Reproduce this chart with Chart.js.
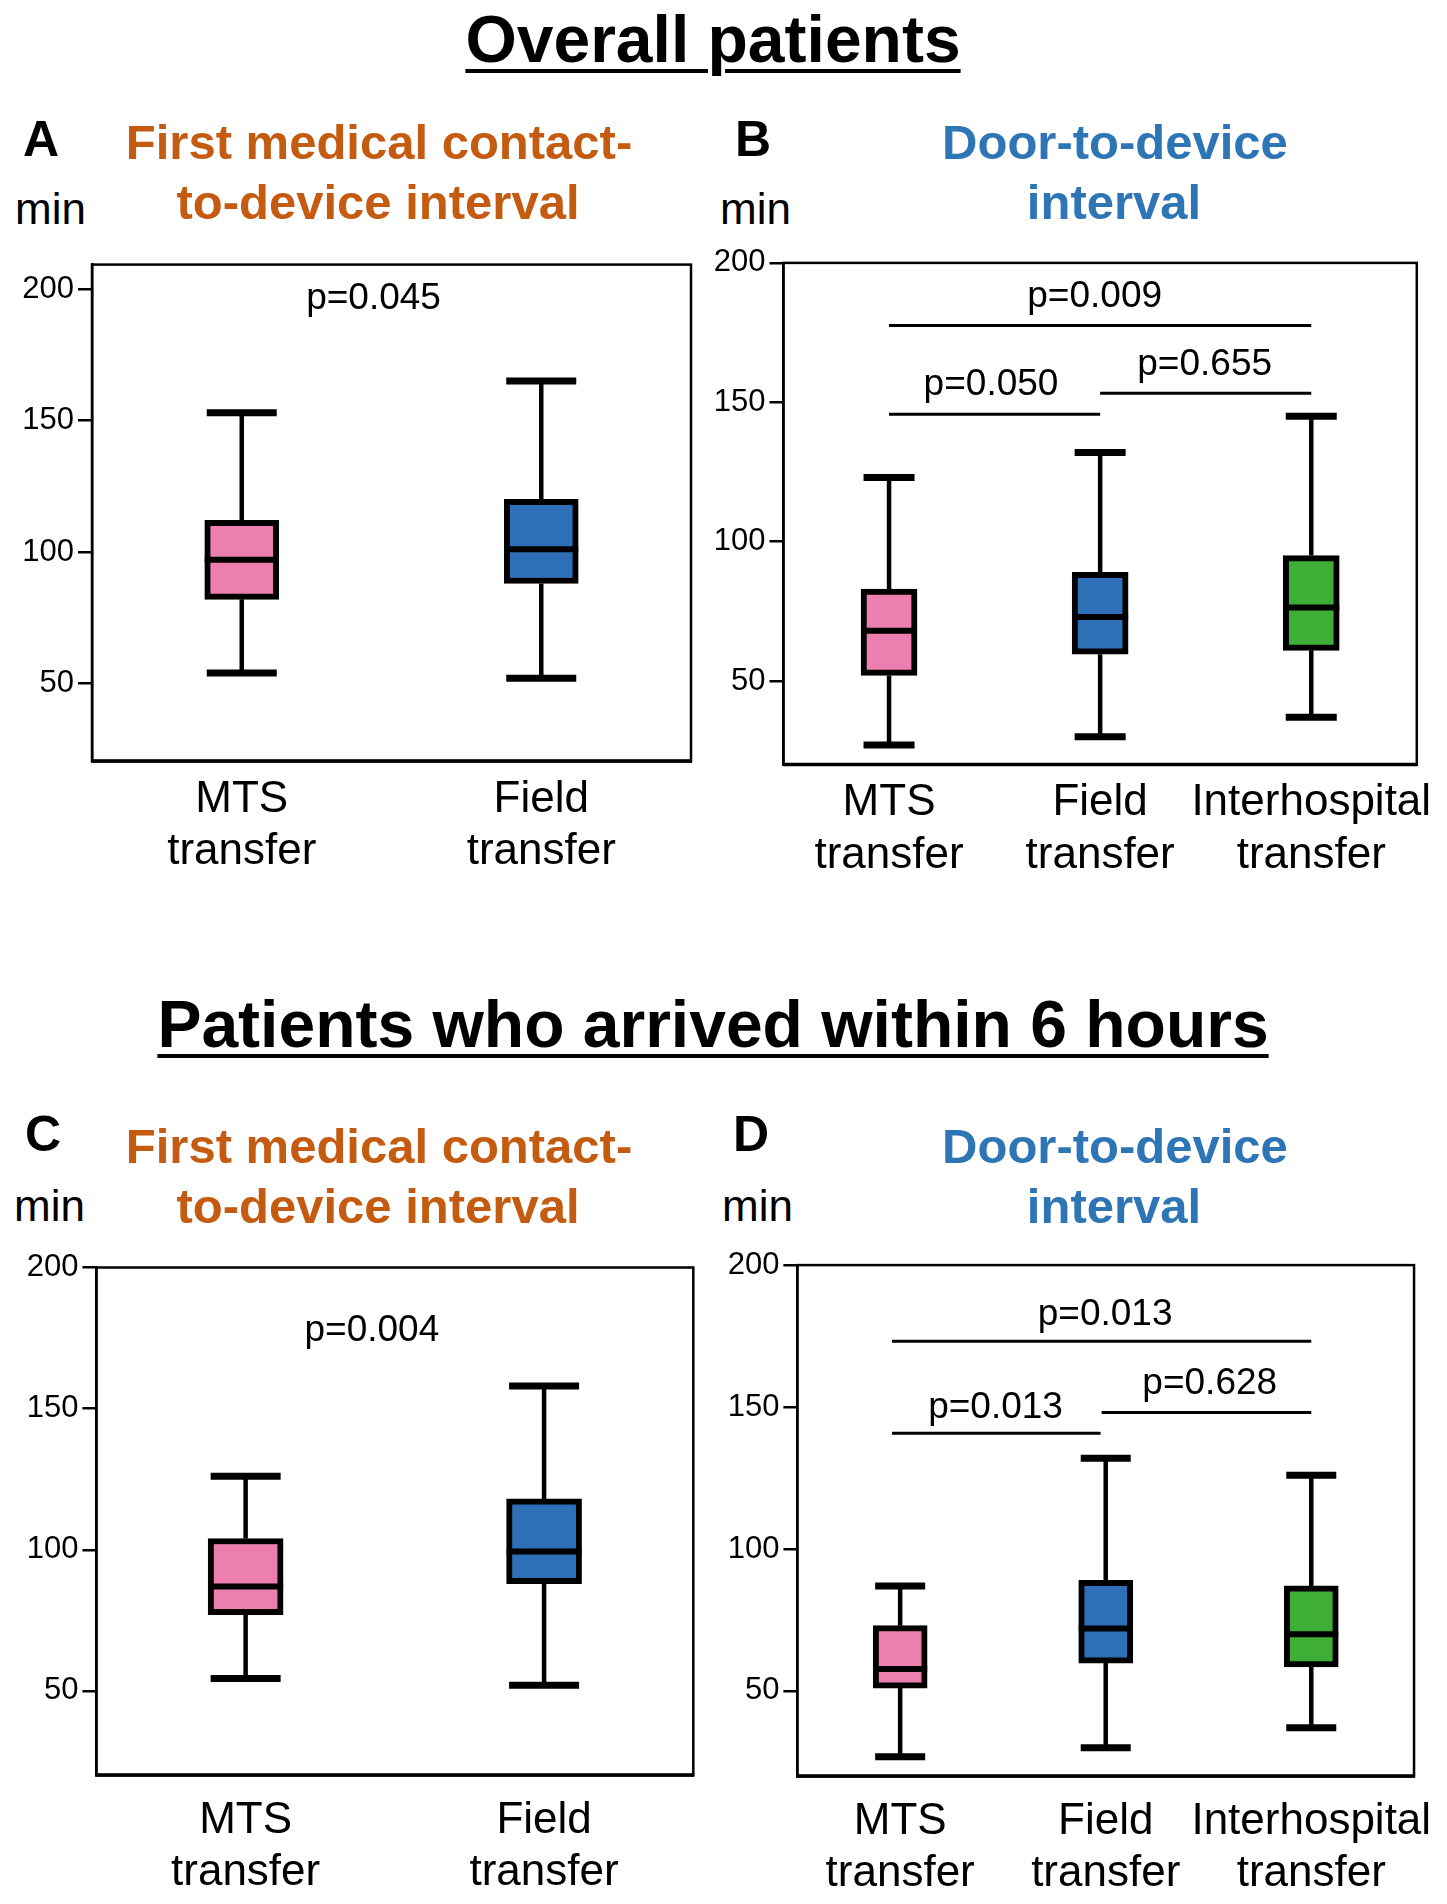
<!DOCTYPE html>
<html><head><meta charset="utf-8">
<script src="https://cdn.jsdelivr.net/npm/chart.js@4.4.1/dist/chart.umd.min.js"></script>
<style>
html,body{margin:0;padding:0;background:#fff;}
body{width:1447px;height:1904px;position:relative;overflow:hidden;font-family:"Liberation Sans",Arial,sans-serif;color:#000;}
.t{position:absolute;white-space:nowrap;line-height:1;}
.c{transform:translateX(-50%);}
.title{font-size:66px;font-weight:700;text-decoration:underline;text-decoration-thickness:4px;text-underline-offset:7px;}
.lab{font-size:50px;font-weight:700;}
.hd{font-size:49px;font-weight:700;}
.or{color:#C55A11;}
.bl{color:#2E75B6;}
.min{font-size:44px;}
canvas{position:absolute;}
</style></head><body>

<div class="t c title" style="left:713px;top:6px;">Overall patients</div>
<div class="t lab" style="left:23px;top:114px;">A</div>
<div class="t c hd or" style="left:379px;top:118px;">First medical contact-</div>
<div class="t c hd or" style="left:378px;top:178px;">to-device interval</div>
<div class="t min" style="left:15px;top:187px;">min</div>
<div class="t lab" style="left:735px;top:114px;">B</div>
<div class="t c hd bl" style="left:1115px;top:118px;">Door-to-device</div>
<div class="t c hd bl" style="left:1114px;top:178px;">interval</div>
<div class="t min" style="left:720px;top:187px;">min</div>

<div class="t c title" style="left:713px;top:991px;">Patients who arrived within 6 hours</div>
<div class="t lab" style="left:25px;top:1109px;">C</div>
<div class="t c hd or" style="left:379px;top:1122px;">First medical contact-</div>
<div class="t c hd or" style="left:378px;top:1182px;">to-device interval</div>
<div class="t min" style="left:14px;top:1184px;">min</div>
<div class="t lab" style="left:733px;top:1109px;">D</div>
<div class="t c hd bl" style="left:1115px;top:1122px;">Door-to-device</div>
<div class="t c hd bl" style="left:1114px;top:1182px;">interval</div>
<div class="t min" style="left:722px;top:1184px;">min</div>

<canvas id="cA" width="700" height="670" style="left:0px;top:230px;width:700px;height:670px;"></canvas>
<canvas id="cB" width="747" height="670" style="left:700px;top:230px;width:747px;height:670px;"></canvas>
<canvas id="cC" width="705" height="669" style="left:0px;top:1235px;width:705px;height:669px;"></canvas>
<canvas id="cD" width="742" height="669" style="left:705px;top:1235px;width:742px;height:669px;"></canvas>

<script>
// ---------- data ----------
const cats2 = [['MTS', 'transfer'], ['Field', 'transfer']];
const cats3 = [['MTS', 'transfer'], ['Field', 'transfer'], ['Interhospital', 'transfer']];
const yTickValues = [50, 100, 150, 200];

const colors2 = ['#EC7FB0', '#2E70B8'];
const colors3 = ['#EC7FB0', '#2E70B8', '#3FAE36'];

// Panel A: overall, first medical contact-to-device (min)
const aMin = [54, 52];
const aQ1  = [82, 88];
const aMed = [97, 101];
const aQ3  = [112, 120];
const aMax = [153, 165];
const aPText = ['p=0.045'];
const aPX = [0.44];
const aPY = [192.3];

// Panel B: overall, door-to-device (min)
const bMin = [27, 30, 37];
const bQ1  = [52, 59.6, 61];
const bMed = [68, 73, 76.4];
const bQ3  = [83, 89, 95];
const bMax = [123, 132, 145];
const bLineFrom = [0, 0, 1];
const bLineTo   = [2, 1, 2];
const bLineY    = [177.5, 145.7, 153.2];
const bPText = ['p=0.009', 'p=0.050', 'p=0.655'];
const bPX = [0.974, 0.483, 1.495];
const bPY = [184.2, 152.5, 159.8];

// Panel C: within 6 h, first medical contact-to-device (min)
const cMin = [54.4, 52];
const cQ1  = [77, 88];
const cMed = [87, 99.4];
const cQ3  = [104, 118];
const cMax = [126, 158];
const cPText = ['p=0.004'];
const cPX = [0.423];
const cPY = [173.9];

// Panel D: within 6 h, door-to-device (min)
const dMin = [26.8, 30, 37];
const dQ1  = [51, 59.8, 58.5];
const dMed = [57.7, 72, 70];
const dQ3  = [73, 89, 87];
const dMax = [87, 132, 126];
const dLineFrom = [-0.04, -0.04, 0.98];
const dLineTo   = [2, 0.975, 2];
const dLineY    = [173.2, 140.8, 148.1];
const dPText = ['p=0.013', 'p=0.013', 'p=0.628'];
const dPX = [0.997, 0.464, 1.506];
const dPY = [178.8, 146, 154.7];

// ---------- drawing ----------
const FONT = '"Liberation Sans", Arial, sans-serif';
Chart.defaults.font.family = FONT;

const boxPlugin = {
  id: 'boxExtras',
  afterDatasetsDraw(chart) {
    const p = chart.options.plugins.boxExtras;
    const ctx = chart.ctx, x = chart.scales.x, y = chart.scales.y;
    ctx.save();
    ctx.strokeStyle = '#000';
    ctx.lineCap = 'butt';
    p.mins.forEach((mn, i) => {
      const cx = x.getPixelForValue(i);
      const yMn = y.getPixelForValue(mn), yMx = y.getPixelForValue(p.maxs[i]);
      const yQ1 = y.getPixelForValue(p.q1[i]), yQ3 = y.getPixelForValue(p.q3[i]);
      const yMd = y.getPixelForValue(p.med[i]);
      ctx.lineWidth = 4.5;
      ctx.beginPath();
      ctx.moveTo(cx, yQ3); ctx.lineTo(cx, yMx);
      ctx.moveTo(cx, yQ1); ctx.lineTo(cx, yMn);
      ctx.stroke();
      ctx.lineWidth = 7;
      ctx.beginPath();
      ctx.moveTo(cx - p.capW / 2, yMx); ctx.lineTo(cx + p.capW / 2, yMx);
      ctx.moveTo(cx - p.capW / 2, yMn); ctx.lineTo(cx + p.capW / 2, yMn);
      ctx.stroke();
      ctx.lineWidth = 6;
      ctx.beginPath();
      ctx.moveTo(cx - p.boxW / 2, yMd); ctx.lineTo(cx + p.boxW / 2, yMd);
      ctx.stroke();
    });
    // significance bars
    ctx.lineWidth = 3;
    (p.lineFrom || []).forEach((f, i) => {
      const yy = y.getPixelForValue(p.lineY[i]);
      ctx.beginPath();
      ctx.moveTo(x.getPixelForValue(f), yy);
      ctx.lineTo(x.getPixelForValue(p.lineTo[i]), yy);
      ctx.stroke();
    });
    // p-values
    ctx.fillStyle = '#000';
    ctx.font = '37px ' + FONT;
    ctx.textAlign = 'center';
    ctx.textBaseline = 'alphabetic';
    p.pText.forEach((t, i) => {
      ctx.fillText(t, x.getPixelForValue(p.pX[i]), y.getPixelForValue(p.pY[i]));
    });
    ctx.restore();
  },
  afterDraw(chart) {
    const a = chart.chartArea, ctx = chart.ctx;
    ctx.save();
    ctx.strokeStyle = '#000';
    ctx.lineWidth = 2.5;
    ctx.strokeRect(a.left, a.top, a.right - a.left, a.bottom - a.top);
    ctx.lineWidth = 3.5;
    ctx.beginPath();
    ctx.moveTo(a.left, a.bottom); ctx.lineTo(a.right + 1, a.bottom);
    ctx.stroke();
    ctx.restore();
  }
};

function makeChart(id, s) {
  return new Chart(document.getElementById(id), {
    type: 'bar',
    data: {
      labels: s.labels,
      datasets: [{
        data: s.q1.map((v, i) => [v, s.q3[i]]),
        backgroundColor: s.colors,
        borderColor: '#000',
        borderWidth: 6,
        borderSkipped: false,
        barThickness: s.boxW
      }]
    },
    options: {
      responsive: false,
      animation: false,
      devicePixelRatio: 1,
      layout: { padding: { top: s.padTop, right: s.padRight, left: 0, bottom: 0 } },
      plugins: {
        legend: { display: false },
        tooltip: { enabled: false },
        boxExtras: s
      },
      scales: {
        x: {
          grid: { display: false },
          border: { display: true, color: '#000', width: 2.5 },
          ticks: {
            color: '#000', font: { size: 44, family: FONT, lineHeight: 1.2 },
            padding: s.xPad, autoSkip: false, maxRotation: 0, minRotation: 0
          },
          afterFit(sc) { sc.height = s.xH; }
        },
        y: {
          min: s.yMin, max: s.yMax,
          afterBuildTicks(sc) { sc.ticks = yTickValues.map(v => ({ value: v })); },
          grid: { display: true, drawOnChartArea: false, drawTicks: true, tickLength: 14, color: '#000', lineWidth: 2.5 },
          border: { display: true, color: '#000', width: 2.5 },
          ticks: { color: '#000', font: { size: 31, family: FONT }, padding: 4, callback: v => String(v) },
          afterFit(sc) { sc.width = s.yW; }
        }
      }
    },
    plugins: [boxPlugin]
  });
}

makeChart('cA', { labels: cats2, colors: colors2, mins: aMin, q1: aQ1, med: aMed, q3: aQ3, maxs: aMax,
  pText: aPText, pX: aPX, pY: aPY, yMin: 20.5, yMax: 209.3,
  yW: 92, xH: 139, padTop: 34.6, padRight: 9, boxW: 74, capW: 70, xPad: 4 });
makeChart('cB', { labels: cats3, colors: colors3, mins: bMin, q1: bQ1, med: bMed, q3: bQ3, maxs: bMax,
  lineFrom: bLineFrom, lineTo: bLineTo, lineY: bLineY,
  pText: bPText, pX: bPX, pY: bPY, yMin: 20, yMax: 200,
  yW: 83.5, xH: 135.4, padTop: 32.9, padRight: 30.2, boxW: 56, capW: 51, xPad: 4 });
makeChart('cC', { labels: cats2, colors: colors2, mins: cMin, q1: cQ1, med: cMed, q3: cQ3, maxs: cMax,
  pText: cPText, pX: cPX, pY: cPY, yMin: 20.2, yMax: 200,
  yW: 96.4, xH: 129, padTop: 32.5, padRight: 11.7, boxW: 75, capW: 70, xPad: 11 });
makeChart('cD', { labels: cats3, colors: colors3, mins: dMin, q1: dQ1, med: dMed, q3: dQ3, maxs: dMax,
  lineFrom: dLineFrom, lineTo: dLineTo, lineY: dLineY,
  pText: dPText, pX: dPX, pY: dPY, yMin: 20, yMax: 200,
  yW: 92.4, xH: 127.9, padTop: 30.1, padRight: 29.3, boxW: 54, capW: 50, xPad: 11 });
</script>
</body></html>
